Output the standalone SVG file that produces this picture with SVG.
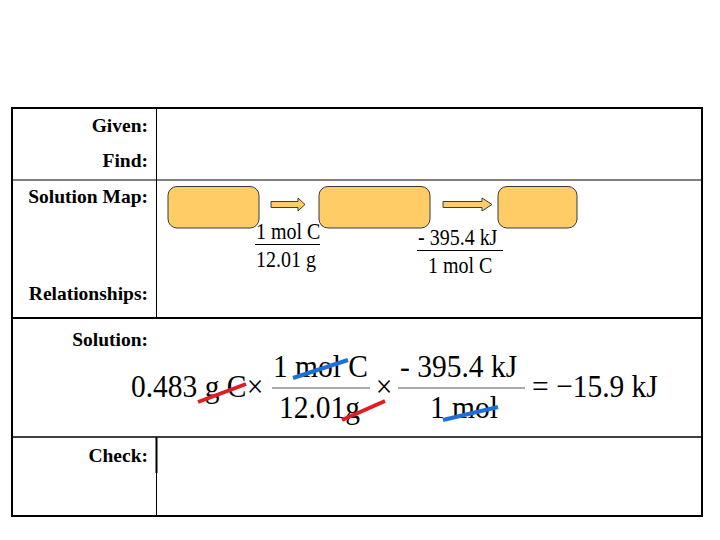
<svg xmlns="http://www.w3.org/2000/svg" width="720" height="540" viewBox="0 0 720 540">
<style>
.lbl{font-family:"Liberation Serif","Times New Roman",serif;font-weight:bold;font-size:19.5px;text-anchor:end;fill:#000}
.fs{font-family:"Liberation Serif","Times New Roman",serif;font-size:20px;fill:#000}
.eq{font-family:"Liberation Serif","Times New Roman",serif;font-size:29.5px;fill:#000}
.box{fill:#FFCC66;stroke:#3a3a3a;stroke-width:1}
.arr{fill:#FFCC66;stroke:#3a3a3a;stroke-width:1}
.rule{stroke:#000;fill:none}
.red{stroke:#E31B23;stroke-width:4}
.blue{stroke:#1F6FD8;stroke-width:4}
</style>
<rect width="720" height="540" fill="#fff"/>
<g id="table">
<rect class="rule" x="12" y="108" width="690" height="408" stroke-width="2"/>
<line class="rule" x1="12" y1="180" x2="702" y2="180" stroke-width="1"/>
<line class="rule" x1="12" y1="318" x2="702" y2="318" stroke-width="2"/>
<line class="rule" x1="12" y1="437" x2="702" y2="437" stroke-width="1.5"/>
<line class="rule" x1="156.5" y1="108" x2="156.5" y2="318" stroke-width="1"/>
<line class="rule" x1="156.5" y1="437" x2="156.5" y2="473" stroke-width="2"/>
<line class="rule" x1="156.5" y1="473" x2="156.5" y2="515" stroke-width="1"/>
</g>
<g id="labels">
<text class="lbl" x="148" y="132">Given:</text>
<text class="lbl" x="148" y="167">Find:</text>
<text class="lbl" x="148" y="203">Solution Map:</text>
<text class="lbl" x="148" y="300">Relationships:</text>
<text class="lbl" x="148" y="346">Solution:</text>
<text class="lbl" x="148" y="462">Check:</text>
</g>
<g id="box1"><rect class="box" x="168" y="186.5" width="91" height="41.5" rx="9"/></g>
<g id="box2"><rect class="box" x="319" y="186.5" width="111" height="41.5" rx="9"/></g>
<g id="box3"><rect class="box" x="498" y="186.5" width="79" height="41.5" rx="9"/></g>
<g id="connectors">
<polygon class="arr" points="271,201.5 298,201.5 298,198 305,204.5 298,211 298,207.5 271,207.5"/>
<polygon class="arr" points="443,201.5 482,201.5 482,198 492,204.5 482,211 482,207.5 443,207.5"/>
</g>
<g id="factor1">
<text class="fs" transform="translate(256,238.5) scale(1,1.2)">1 mol C</text>
<line x1="255" y1="244.5" x2="320" y2="244.5" stroke="#000" stroke-width="1"/>
<text class="fs" transform="translate(256,266.5) scale(1,1.2)">12.01 g</text>
</g>
<g id="factor2">
<text class="fs" transform="translate(418,245) scale(1,1.2)">- 395.4 kJ</text>
<line x1="417" y1="250.5" x2="503" y2="250.5" stroke="#000" stroke-width="1"/>
<text class="fs" transform="translate(428,273) scale(1,1.2)">1 mol C</text>
</g>
<g id="equation">
<text class="eq" transform="translate(131,397) scale(1,1.1)">0.483 g C</text>
<text class="eq" text-anchor="middle" transform="translate(255,397) scale(1,1.1)">×</text>
<text class="eq" transform="translate(273,377) scale(1,1.1)">1 mol C</text>
<line x1="272" y1="388" x2="370" y2="388" stroke="#555" stroke-width="1"/>
<text class="eq" transform="translate(279,418) scale(1,1.1)">12.01g</text>
<text class="eq" text-anchor="middle" transform="translate(384,397) scale(1,1.1)">×</text>
<text class="eq" transform="translate(400,377) scale(1,1.1)">- 395.4 kJ</text>
<line x1="398" y1="388" x2="525" y2="388" stroke="#555" stroke-width="1"/>
<text class="eq" transform="translate(430,418) scale(1,1.1)">1 mol</text>
<text class="eq" transform="translate(532,397) scale(1,1.1)">= −15.9 kJ</text>
<line class="red" x1="198" y1="402" x2="246" y2="384"/>
<line class="blue" x1="293" y1="378" x2="348" y2="360"/>
<line class="red" x1="342" y1="420" x2="385" y2="401"/>
<line class="blue" x1="443" y1="420" x2="498" y2="407"/>
</g>
</svg>
